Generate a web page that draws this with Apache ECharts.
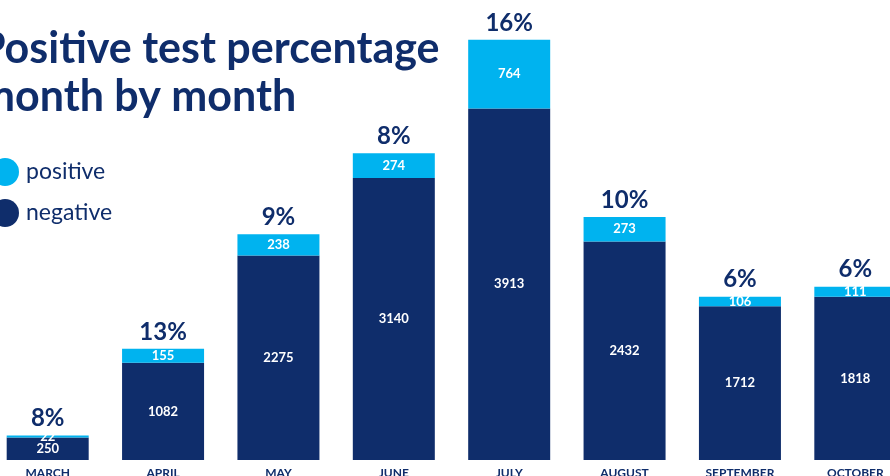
<!DOCTYPE html>
<html>
<head>
<meta charset="utf-8">
<script src="https://cdn.jsdelivr.net/npm/echarts@6/dist/echarts.min.js"></script>
<style>
  html, body { margin: 0; padding: 0; background: #fff; }
  #chart { width: 890px; height: 476px; }
</style>
</head>
<body>
<div id="chart"></div>
<script>
// months and test counts
const months = ["MARCH", "APRIL", "MAY", "JUNE", "JULY", "AUGUST", "SEPTEMBER", "OCTOBER"];
const negative = [250, 1082, 2275, 3140, 3913, 2432, 1712, 1818];
const positive = [22, 155, 238, 274, 764, 273, 106, 111];
const percent = ["8%", "13%", "9%", "8%", "16%", "10%", "6%", "6%"];

const navy = "#0f2d6b";
const blue = "#00b3ef";
const font = "Lato";

const chart = echarts.init(document.getElementById("chart"));

const option = {
  animation: false,
  textStyle: { fontFamily: font },
  title: {
    text: "Positive test percentage\nmonth by month",
    left: -26,
    top: 20,
    textStyle: {
      color: navy,
      fontFamily: font,
      fontWeight: "bold",
      fontSize: 43,
      lineHeight: 48,
    },
  },
  legend: {
    data: ["positive", "negative"],
    orient: "vertical",
    left: -14,
    top: 153,
    icon: "circle",
    itemWidth: 28,
    itemHeight: 28,
    itemGap: 13,
    textStyle: {
      color: navy,
      fontSize: 23,
      fontFamily: font,
      padding: [0, 0, 0, 2],
    },
  },
  grid: {
    left: -10,
    right: -23,
    top: 0,
    bottom: 16,
    outerBoundsMode: "none",
    containLabel: false,
  },
  xAxis: {
    type: "category",
    data: months,
    axisLine: { show: false },
    axisTick: { show: false },
    axisLabel: {
      color: navy,
      fontWeight: "bold",
      fontSize: 12,
      margin: 7,
    },
  },
  yAxis: {
    type: "value",
    min: 0,
    max: 5120,
    show: false,
  },
  series: [
    {
      name: "negative",
      type: "bar",
      stack: "tests",
      barWidth: 82,
      data: negative,
      itemStyle: { color: navy },
      label: {
        show: true,
        position: "inside",
        color: "#fff",
        fontWeight: "bold",
        fontSize: 13,
      },
    },
    {
      name: "positive",
      type: "bar",
      stack: "tests",
      barWidth: 82,
      data: positive,
      itemStyle: { color: blue },
      label: {
        show: true,
        position: "inside",
        color: "#fff",
        fontWeight: "bold",
        fontSize: 13,
      },
    },
    {
      name: "pct",
      type: "bar",
      stack: "tests",
      barWidth: 82,
      data: months.map(() => 0),
      itemStyle: { color: "transparent" },
      label: {
        show: true,
        position: "top",
        distance: 5,
        color: navy,
        fontSize: 24,
        fontWeight: "bold",
        formatter: (p) => percent[p.dataIndex],
      },
    },
  ],
};

chart.setOption(option);
</script>
</body>
</html>
